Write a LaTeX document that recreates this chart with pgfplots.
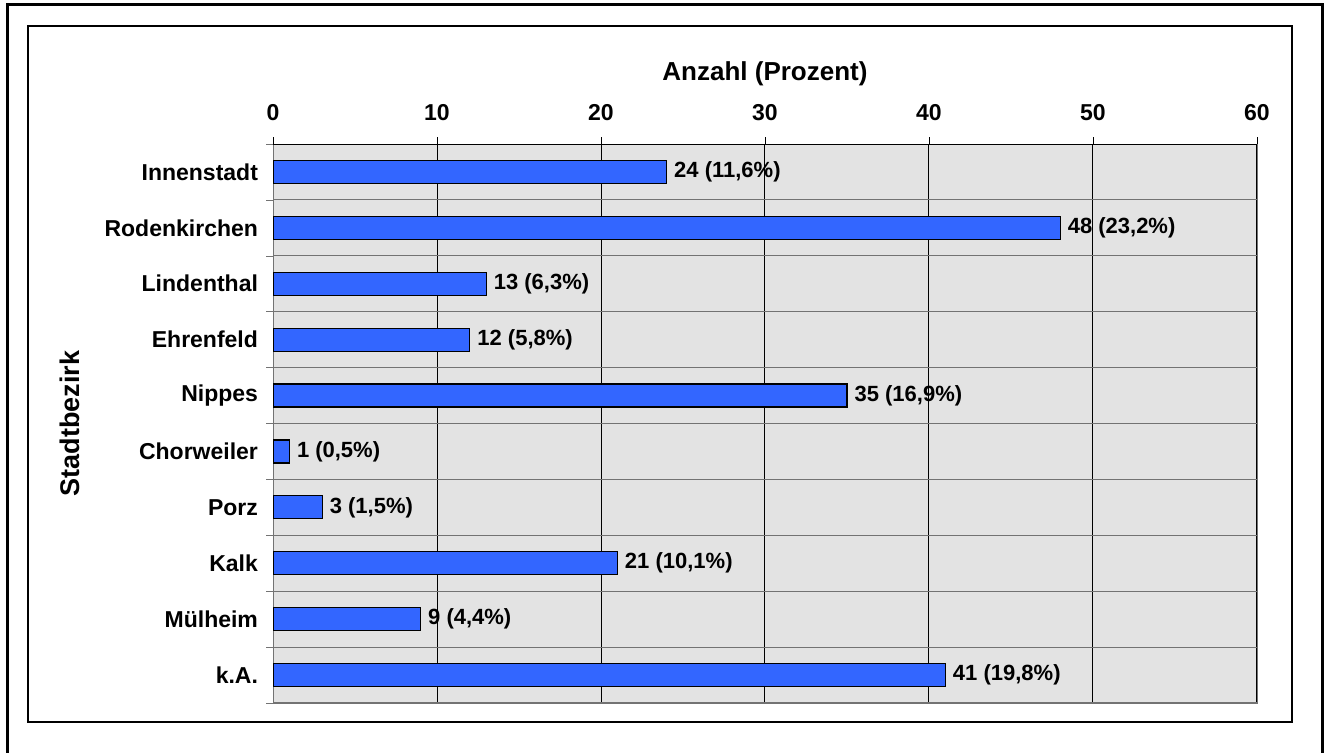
\documentclass[border=0pt]{standalone}
\usepackage{pgfplots}
\pgfplotsset{compat=1.18}
\usepackage{fontspec}
\setmainfont{Liberation Sans}
\definecolor{barblue}{HTML}{3366FF}
\definecolor{bggray}{HTML}{E3E3E3}
\begin{document}
\begin{tikzpicture}
\useasboundingbox (0,0) rectangle (662pt,376.5pt);
\draw[line width=1.5pt] (3.5pt,-5pt) -- (3.5pt,374pt) -- (661pt,374pt) -- (661pt,-5pt);
\draw[line width=1pt] (14pt,15.5pt) rectangle (646pt,363.5pt);
\begin{axis}[
  at={(136.5pt,25pt)}, anchor=south west,
  scale only axis, width=492pt, height=279.5pt,
  xbar, bar width=11.5pt,
  xmin=0, xmax=60, ymin=-0.5, ymax=9.5,
  y dir=reverse,
  xtick={0,10,...,60},
  xticklabel pos=upper,
  xtick pos=right,
  ytick pos=left,
  ytick={0,...,9},
  yticklabels={Innenstadt,Rodenkirchen,Lindenthal,Ehrenfeld,Nippes,Chorweiler,Porz,Kalk,Mülheim,k.A.},
  ytick style={draw=none},
  minor ytick={-0.5,0.5,...,9.5},
  minor y tick style={draw=black!55},
  minor tick length=3.5pt,
  major tick length=3.5pt,
  tick align=outside,
  xtick style={draw=black},
  xmajorgrids=true, yminorgrids=true,
  major x grid style={draw=black, line width=0.5pt},
  minor y grid style={draw=black!55, line width=0.5pt},
  axis line style={draw=black!55},
  axis background/.style={fill=bggray},
  /pgf/number format/assume math mode=true,
  xticklabel style={font=\bfseries\fontsize{11.5}{13}\selectfont, yshift=4.5pt},
  yticklabel style={font=\bfseries\fontsize{11.5}{13}\selectfont, xshift=-0.5pt},
  title={Anzahl (Prozent)},
  title style={at={(axis description cs:0.5,1)}, anchor=base, yshift=26pt, font=\bfseries\fontsize{13}{15}\selectfont},
  ylabel={Stadtbezirk},
  ylabel style={at={(axis description cs:-0.2063,0.5)}, anchor=center, font=\bfseries\fontsize{13.5}{15}\selectfont},
  point meta=explicit symbolic,
  nodes near coords,
  nodes near coords style={anchor=west, inner sep=0pt, xshift=3.5pt, font=\bfseries\fontsize{11}{13}\selectfont, text=black},
]
\addplot[fill=barblue, draw=black, line width=0.6pt] coordinates {
  (24,0) [24 (11,6\%)]
  (48,1) [48 (23,2\%)]
  (13,2) [13 (6,3\%)]
  (12,3) [12 (5,8\%)]
  (35,4) [35 (16,9\%)]
  (1,5) [1 (0,5\%)]
  (3,6) [3 (1,5\%)]
  (21,7) [21 (10,1\%)]
  (9,8) [9 (4,4\%)]
  (41,9) [41 (19,8\%)]
};
\draw[black, line width=0.6pt] (axis cs:0,-0.5) -- (axis cs:60,-0.5);
\end{axis}
\end{tikzpicture}
\end{document}
